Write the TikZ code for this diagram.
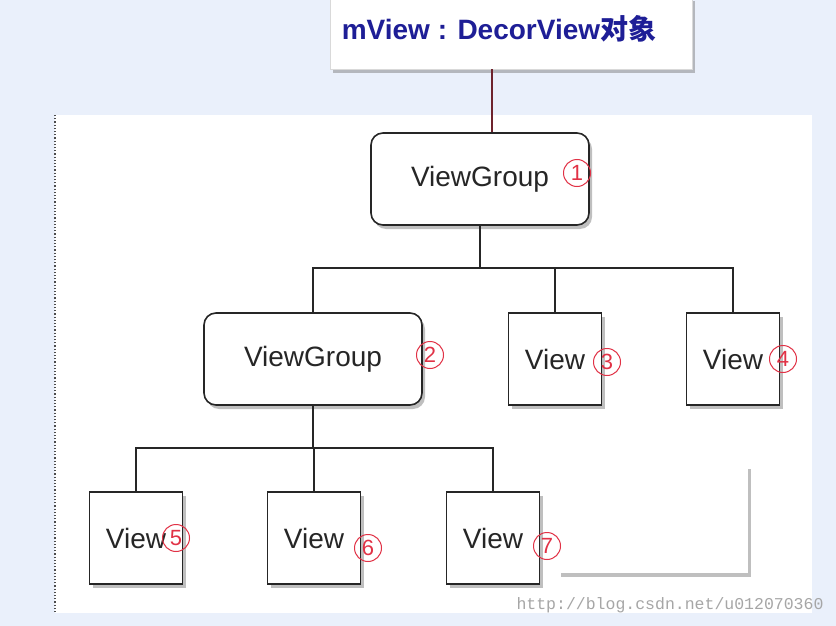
\documentclass[tikz,border=0pt]{standalone}
\usepackage{fontspec}
\setmainfont{Liberation Sans}
\newfontfamily\cjk{Noto Sans CJK SC}
\newfontfamily\wmfont{Liberation Mono}
\usetikzlibrary{shadows}
\definecolor{bgblue}{RGB}{234,240,251}
\definecolor{titleblue}{RGB}{30,30,150}
\definecolor{numred}{RGB}{225,50,70}
\definecolor{linkred}{RGB}{110,35,45}
\begin{document}
\begin{tikzpicture}[x=1pt,y=-1pt,
  shade box/.style={fill=white,drop shadow={shadow xshift=3pt,shadow yshift=-4pt,opacity=.5}},
  box/.style={shade box,draw=black!85,line width=1.6pt,text=black!85,font=\fontsize{28}{32}\selectfont},
  group/.style={box,rounded corners=12pt,minimum width=218pt,minimum height=92pt},
  leaf/.style={box,minimum width=93pt,minimum height=92pt},
  num/.style={circle,draw=numred,text=numred,line width=1pt,inner sep=0pt,minimum size=27pt,font=\fontsize{22}{22}\selectfont},
  link/.style={draw=black!85,line width=1.5pt}]
  \useasboundingbox (0,0) rectangle (836,626);
  \fill[bgblue] (0,0) rectangle (836,626);
  \fill[white] (55,115) rectangle (812,613);
  \draw[black!70,dotted,line width=1.2pt] (55,115) -- (55,613);
  \node[shade box,draw=black!15,minimum width=362pt,minimum height=72pt] (top) at (511,33) {};
  \node[text=titleblue,font=\bfseries\fontsize{28}{32}\selectfont] (title) at (499,29) {mView : DecorView{\cjk\bfseries 对象}};
  \node[group] (vg1) at (480,179) {ViewGroup};
  \node[group] (vg2) at (313,359) {ViewGroup};
  \foreach \k/\x/\y in {3/555/359,4/733/359,5/136/538,6/314/538,7/493/538}
    \node[leaf] (v\k) at (\x,\y) {View};
  \node[shade box,minimum width=190pt,minimum height=108pt] (mask) at (653,519) {};
  \foreach \k/\x/\y in {1/577/173,2/430/355,3/607/362,4/783/359,5/176/538,6/368/548,7/547/546}
    \node[num] (n\k) at (\x,\y) {\k};
  \draw[link,draw=linkred] ([xshift=12pt]vg1.north) -- ([xshift=12pt]vg1.north |- top.south);
  \coordinate (b1) at (480,268);
  \coordinate (b2) at (313,448);
  \draw[link] (vg1.south) -- (b1);
  \draw[link] (b1) -| (vg2.north);
  \draw[link] (b1) -| (v3.north);
  \draw[link] (b1) -| (v4.north);
  \draw[link] (vg2.south) -- (b2);
  \draw[link] (b2) -| (v5.north);
  \draw[link] (b2) -| (v6.north);
  \draw[link] (b2) -| (v7.north);
  \node[text=black!35,font=\wmfont\fontsize{16.5}{18}\selectfont] (wm) at (670,605) {http://blog.csdn.net/u012070360};
\end{tikzpicture}
\end{document}
